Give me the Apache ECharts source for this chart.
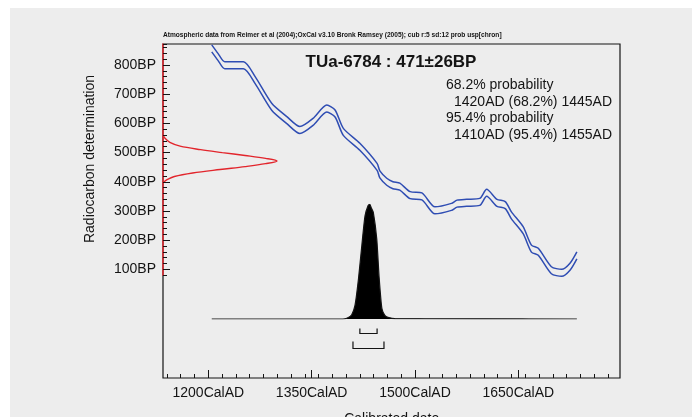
<!DOCTYPE html>
<html><head><meta charset="utf-8">
<script src="https://cdn.jsdelivr.net/npm/echarts@6/dist/echarts.min.js"></script>
<style>html,body{margin:0;padding:0;background:#fff}#c{width:692px;height:417px}</style>
</head><body><div id="c"></div>
<script>
// ---------- data ----------
const curveYears = [1205,1214,1224,1251,1268,1292,1314,1333,1352,1372,1384,1396,1420,1445,1449,1459,1468,1478,1493,1510,1529,1553,1561,1575,1594,1604,1619,1631,1640,1657,1669,1679,1698,1713,1725,1735];
const curveBP    = [857,828,799,799,748,657,611,577,605,651,634,571,520,451,425,400,388,383,354,350,302,314,325,328,331,362,328,320,285,234,171,160,97,88,109,148];
const curveSigma = [12,12,12,12,12,12,12,12,12,12,12,12,12,12,12,12,12,12,12,12,12,12,12,12,12,12,12,12,12,12,12,12,12,12,12,12];

const c14BP   = [560,548,535,522,510,500,490,480,471,462,452,442,430,418,408,400,395];
const c14Prob = [0,0.02,0.06,0.15,0.33,0.52,0.72,0.9,1.0,0.9,0.72,0.5,0.26,0.1,0.04,0.01,0];

const calYears = [1205,1395,1401,1408,1413,1418,1423,1427.5,1432,1434.5,1436.5,1439.5,1444.5,1448,1452,1456.5,1462,1471,1735];
const calProb  = [0,0,0.006,0.035,0.12,0.35,0.65,0.9,0.99,1.0,0.97,0.93,0.7,0.36,0.09,0.03,0.012,0.004,0];

const range68 = [1420,1445];
const range95 = [1410,1455];

const xMajorStep = 150, xMinorStep = 20;
const yMajorStep = 100, yMinorStep = 20;

const topNote = 'Atmospheric data from Reimer et al (2004);OxCal v3.10 Bronk Ramsey (2005); cub r:5 sd:12 prob usp[chron]';
const titleText = 'TUa-6784 : 471\u00B126BP';
const probLines = ['68.2% probability','1420AD (68.2%) 1445AD','95.4% probability','1410AD (95.4%) 1455AD'];
const xName = 'Calibrated date';
const yName = 'Radiocarbon determination';

// ---------- layout ----------
const X0 = 1134.24, X1 = 1797.6, Y0 = -272.4, Y1 = 872;
const L = 163, T = 44, W = 457, H = 334;
const sx = W / (X1 - X0), sy = H / (Y1 - Y0);
const px = v => L + (v - X0) * sx;
const py = v => T + (Y1 - v) * sy;
const FONT = '"Liberation Sans", Arial, sans-serif';
const INK = '#141414';
const BLUE = '#2f4db3';
const RED = '#e2252c';

const g = (o) => Object.assign({outerBoundsMode:'none', containLabel:false}, o);
const hid = (o) => Object.assign({type:'value', show:false, axisLine:{show:false,onZero:false}, splitLine:{show:false}}, o);

const grids = [
  g({left:L, top:T, width:W, height:H, show:true, borderColor:INK, borderWidth:1.2, backgroundColor:'transparent'}),
  g({left:px(1140), width:px(1780)-px(1140), top:T, height:H}),
  g({left:px(1200), width:px(1650)-px(1200), top:T, height:H}),
  g({left:L, width:W, top:py(872), height:py(80)-py(872)}),
  g({left:L, width:W, top:py(800), height:py(100)-py(800)}),
  g({left:L, width:114, top:T, height:H}),
  g({left:L, width:W, top:204.3, height:114.7})
];

const xAxes = [
  hid({gridIndex:0, min:X0, max:X1}),
  {gridIndex:1, type:'value', min:1140, max:1780, interval:xMinorStep,
   axisLine:{show:false,onZero:false}, splitLine:{show:false},
   axisTick:{show:true, inside:true, length:4, lineStyle:{color:INK, width:1}},
   axisLabel:{show:false}},
  {gridIndex:2, type:'value', min:1200, max:1650, interval:xMajorStep,
   axisLine:{show:false,onZero:false}, splitLine:{show:false},
   axisTick:{show:true, inside:true, length:8, lineStyle:{color:INK, width:1}},
   axisLabel:{show:true, formatter: v => v + 'CalAD', fontSize:14, color:INK, margin:8, fontFamily:FONT,
              showMinLabel:true, showMaxLabel:true}},
  hid({gridIndex:3, min:X0, max:X1}),
  hid({gridIndex:4, min:X0, max:X1}),
  hid({gridIndex:5, min:0, max:1}),
  hid({gridIndex:6, min:X0, max:X1})
];

const yAxes = [
  hid({gridIndex:0, min:Y0, max:Y1}),
  hid({gridIndex:1, min:0, max:1}),
  hid({gridIndex:2, min:0, max:1}),
  {gridIndex:3, type:'value', min:80, max:872, interval:yMinorStep, z:5,
   axisLine:{show:true, onZero:false, lineStyle:{color:RED, width:1.5}},
   axisTick:{show:true, inside:true, length:4, lineStyle:{color:INK, width:1}},
   axisLabel:{show:false}, splitLine:{show:false}},
  {gridIndex:4, type:'value', min:100, max:800, interval:yMajorStep, z:5,
   axisLine:{show:false, onZero:false}, splitLine:{show:false},
   axisTick:{show:true, inside:true, length:7, lineStyle:{color:INK, width:1}},
   axisLabel:{show:true, formatter: v => v + 'BP', fontSize:14, color:INK, margin:7, fontFamily:FONT,
              showMinLabel:true, showMaxLabel:true}},
  hid({gridIndex:5, min:Y0, max:Y1}),
  hid({gridIndex:6, min:0, max:1})
];

const series = [
  {type:'line', name:'curve+', xAxisIndex:0, yAxisIndex:0, showSymbol:false, smooth:0.25,
   data: curveYears.map((y,i)=>[y, curveBP[i] + curveSigma[i]]),
   lineStyle:{color:BLUE, width:1.5}, z:3},
  {type:'line', name:'curve-', xAxisIndex:0, yAxisIndex:0, showSymbol:false, smooth:0.25,
   data: curveYears.map((y,i)=>[y, curveBP[i] - curveSigma[i]]),
   lineStyle:{color:BLUE, width:1.5}, z:3},
  {type:'line', name:'c14', xAxisIndex:5, yAxisIndex:5, showSymbol:false, smooth:0.35,
   data: c14BP.map((b,i)=>[c14Prob[i], b]),
   lineStyle:{color:RED, width:1.4}, z:4},
  {type:'line', name:'cal', xAxisIndex:6, yAxisIndex:6, showSymbol:false, smooth:0.2,
   data: calYears.map((y,i)=>[y, calProb[i]]),
   lineStyle:{color:INK, width:1.2}, areaStyle:{color:'#000', opacity:1}, z:4},
  {type:'custom', name:'ranges', xAxisIndex:6, yAxisIndex:6, clip:false, z:4,
   data:[[range68[0], range68[1]], [range95[0], range95[1]]],
   encode:{x:[0,1]},
   renderItem:(params, api) => {
     const a = api.coord([api.value(0), 0]);
     const b = api.coord([api.value(1), 0]);
     const off = params.dataIndex === 0 ? 14.5 : 29.5;
     const h = params.dataIndex === 0 ? 5 : 7;
     const y = a[1] + off;
     return {type:'polyline', shape:{points:[[a[0], y-h],[a[0], y],[b[0], y],[b[0], y-h]]},
             style:{stroke:INK, lineWidth:1.2, fill:null}};
   }}
];

const graphic = [
  {type:'rect', z:-100, shape:{x:10, y:8, width:682, height:409}, style:{fill:'#ededed'}},
  {type:'text', z:100, x:163, y:35.5, style:{text:topNote, font:'bold 6.6px ' + FONT, fill:INK, textAlign:'left', textVerticalAlign:'middle'}},
  {type:'text', z:100, x:391, y:62.4, style:{text:titleText, font:'bold 17px ' + FONT, fill:INK, textAlign:'center', textVerticalAlign:'middle'}},
  {type:'text', z:100, x:446, y:85, style:{text:probLines[0], font:'14px ' + FONT, fill:INK, textAlign:'left', textVerticalAlign:'middle'}},
  {type:'text', z:100, x:454, y:101.7, style:{text:probLines[1], font:'14px ' + FONT, fill:INK, textAlign:'left', textVerticalAlign:'middle'}},
  {type:'text', z:100, x:446, y:118.3, style:{text:probLines[2], font:'14px ' + FONT, fill:INK, textAlign:'left', textVerticalAlign:'middle'}},
  {type:'text', z:100, x:454, y:135, style:{text:probLines[3], font:'14px ' + FONT, fill:INK, textAlign:'left', textVerticalAlign:'middle'}},
  {type:'text', z:100, x:391.7, y:419, style:{text:xName, font:'14px ' + FONT, fill:INK, textAlign:'center', textVerticalAlign:'middle'}},
  {type:'text', z:100, x:90.5, y:159, rotation:Math.PI/2, style:{text:yName, font:'14px ' + FONT, fill:INK, textAlign:'center', textVerticalAlign:'middle'}}
];

const chart = echarts.init(document.getElementById('c'), null, {renderer:'canvas'});
chart.setOption({
  animation:false,
  backgroundColor:'#ffffff',
  textStyle:{fontFamily:FONT},
  grid:grids, xAxis:xAxes, yAxis:yAxes, series, graphic
});
</script></body></html>
